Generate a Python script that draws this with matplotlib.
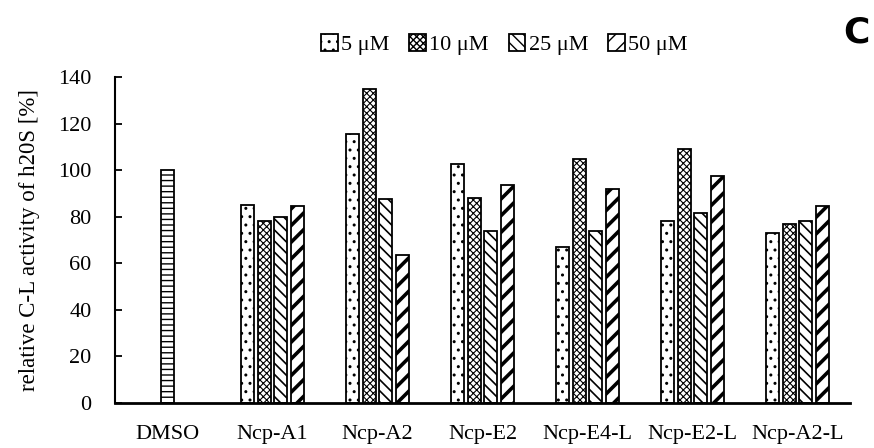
import numpy as np
import matplotlib
matplotlib.use('Agg')
from matplotlib import pyplot as plt

plt.rcParams['font.family'] = ['Liberation Serif', 'DejaVu Serif']
plt.rcParams['hatch.linewidth'] = 1.0

# Data
categories = ['DMSO', 'Ncp-A1', 'Ncp-A2', 'Ncp-E2', 'Ncp-E4-L', 'Ncp-E2-L', 'Ncp-A2-L']
dmso_value = 100
conc_labels = ['5 μM', '10 μM', '25 μM', '50 μM']
conc_5 = [85, 115.5, 102.5, 67, 78, 73]
conc_10 = [78, 135, 88, 105, 109, 77]
conc_25 = [80, 87.5, 74, 74, 81.5, 78]
conc_50 = [84.5, 63.5, 93.5, 92, 97.5, 84.5]

series = [conc_5, conc_10, conc_25, conc_50]
hatches = ['..', 'xxxxx', '\\\\\\', '//']
hatch_widths = [1.0, 0.8, 1.2, 2.6]

fig = plt.figure(figsize=(8.74, 4.48), dpi=100)
ax = fig.add_axes([0.1316, 0.1004, 0.8409, 0.7276])

x = np.arange(len(categories))
width = 0.124
step = 0.158

# DMSO control bar
ax.bar(x[0], dmso_value, width, color='white', edgecolor='black',
       linewidth=1.3, hatch='---')

# concentration series
for i, (vals, h, hw) in enumerate(zip(series, hatches, hatch_widths)):
    with plt.rc_context({'hatch.linewidth': hw}):
        pos = x[1:] + (i - 1.5) * step
        ax.bar(pos, vals, width, color='white', edgecolor='black',
               linewidth=1.3, hatch=h, label=conc_labels[i])

ax.set_xlim(-0.5, len(categories) - 0.5)
ax.set_ylim(0, 140)
ax.set_yticks(range(0, 141, 20))
ax.set_xticks(x)
ax.set_xticklabels(categories)
ax.tick_params(axis='x', length=0, pad=16, labelsize=16)
ax.tick_params(axis='y', direction='in', length=5, width=1.3, labelsize=16, pad=17)
ax.set_ylabel('relative C-L activity of h20S [%]', fontsize=16.5, labelpad=13)

for side in ['top', 'right']:
    ax.spines[side].set_visible(False)
ax.spines['left'].set_linewidth(1.5)
ax.spines['bottom'].set_linewidth(2)

fig.legend(loc='center', bbox_to_anchor=(0.577, 0.9), ncol=4, frameon=False,
           fontsize=16, handlelength=0.75, handleheight=0.75, handletextpad=0.15,
           columnspacing=0.9, borderpad=0.2)

fig.text(0.995, 0.928, 'C', fontsize=26, fontweight='bold', family='DejaVu Sans',
         ha='right', va='center')

fig.savefig('out.png', dpi=100)
